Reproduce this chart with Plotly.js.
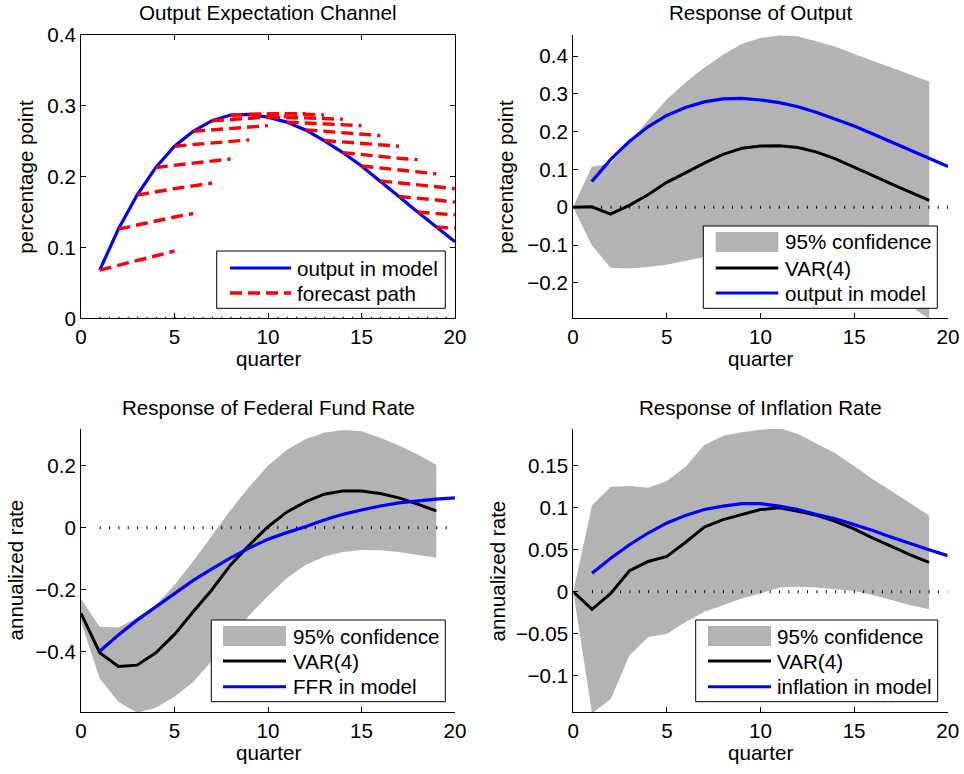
<!DOCTYPE html>
<html>
<head>
<meta charset="utf-8">
<script src="https://cdn.plot.ly/plotly-3.0.1.min.js"></script>
<style>
  html, body { margin: 0; padding: 0; background: #fff; }
  #chart { width: 964px; height: 774px; }
</style>
</head>
<body>
<div id="chart"></div>
<script>
// ---- Data: impulse responses over 20 quarters ----
const quartersVar   = [0, 1, 2, 3, 4, 5, 6, 7, 8, 9, 10, 11, 12, 13, 14, 15, 16, 17, 18, 19];
const quartersModel = [1, 2, 3, 4, 5, 6, 7, 8, 9, 10, 11, 12, 13, 14, 15, 16, 17, 18, 19, 20];
const zeroLineX = [1, 20];
const zeroLineY = [0, 0];

// Output in the model (percentage point)
const outputModel = [0.068, 0.126, 0.174, 0.213, 0.243, 0.264, 0.279, 0.287, 0.288, 0.284,
                     0.277, 0.266, 0.251, 0.234, 0.215, 0.194, 0.172, 0.150, 0.129, 0.108];

// Four-quarter-ahead forecast paths, one per starting quarter 1..19
const forecastStart = [1, 2, 3, 4, 5, 6, 7, 8, 9, 10, 11, 12, 13, 14, 15, 16, 17, 18, 19];
const forecastPaths = [
  [0.068, 0.075, 0.082, 0.089, 0.095],
  [0.126, 0.132, 0.138, 0.143, 0.148],
  [0.174, 0.179, 0.183, 0.187, 0.191],
  [0.213, 0.216, 0.219, 0.222, 0.225],
  [0.243, 0.245, 0.248, 0.250, 0.252],
  [0.264, 0.266, 0.268, 0.270, 0.272],
  [0.279, 0.281, 0.283, 0.284, 0.285],
  [0.287, 0.288, 0.289, 0.289, 0.289],
  [0.288, 0.289, 0.289, 0.288, 0.287],
  [0.284, 0.284, 0.283, 0.282, 0.281],
  [0.277, 0.276, 0.275, 0.273, 0.272],
  [0.266, 0.264, 0.262, 0.260, 0.258],
  [0.251, 0.249, 0.247, 0.245, 0.243],
  [0.234, 0.231, 0.229, 0.226, 0.224],
  [0.215, 0.212, 0.209, 0.207, 0.204],
  [0.194, 0.191, 0.189, 0.186, 0.183],
  [0.172, 0.170, 0.167, 0.164],
  [0.150, 0.148, 0.146],
  [0.129, 0.127]
];

// Response of output: VAR(4) estimate and 95% band
const outputVar   = [0, 0.001, -0.018, 0.005, 0.033, 0.066, 0.091, 0.117, 0.140, 0.156,
                     0.162, 0.163, 0.158, 0.146, 0.128, 0.107, 0.084, 0.061, 0.039, 0.018];
const outputUpper = [0, 0.107, 0.116, 0.170, 0.230, 0.285, 0.330, 0.369, 0.404, 0.432,
                     0.448, 0.455, 0.453, 0.440, 0.425, 0.406, 0.388, 0.369, 0.351, 0.333];
const outputLower = [0, -0.100, -0.160, -0.162, -0.158, -0.152, -0.142, -0.132, -0.125, -0.120,
                     -0.118, -0.120, -0.127, -0.138, -0.152, -0.170, -0.195, -0.225, -0.262, -0.295];

// Response of the federal funds rate (annualized)
const ffrVar   = [-0.276, -0.403, -0.447, -0.443, -0.403, -0.344, -0.271, -0.200, -0.120, -0.056,
                  0.003, 0.050, 0.083, 0.108, 0.118, 0.118, 0.110, 0.096, 0.076, 0.054];
const ffrUpper = [-0.230, -0.319, -0.322, -0.290, -0.250, -0.185, -0.108, -0.024, 0.057, 0.132,
                  0.200, 0.250, 0.285, 0.306, 0.315, 0.311, 0.290, 0.265, 0.236, 0.203];
const ffrLower = [-0.303, -0.486, -0.561, -0.596, -0.580, -0.545, -0.497, -0.430, -0.360, -0.282,
                  -0.220, -0.163, -0.120, -0.094, -0.078, -0.072, -0.073, -0.078, -0.088, -0.097];
const ffrModel = [-0.398, -0.346, -0.298, -0.255, -0.212, -0.170, -0.133, -0.097, -0.065, -0.037,
                  -0.016, 0.003, 0.025, 0.043, 0.057, 0.070, 0.080, 0.087, 0.092, 0.096];

// Response of the inflation rate (annualized)
const inflVar   = [0, -0.021, -0.002, 0.025, 0.036, 0.042, 0.059, 0.077, 0.086, 0.092,
                   0.098, 0.100, 0.096, 0.091, 0.084, 0.075, 0.064, 0.054, 0.044, 0.035];
const inflUpper = [0, 0.103, 0.125, 0.126, 0.124, 0.132, 0.149, 0.175, 0.186, 0.190,
                   0.193, 0.195, 0.188, 0.177, 0.165, 0.150, 0.134, 0.120, 0.106, 0.091];
const inflLower = [0, -0.145, -0.128, -0.076, -0.054, -0.050, -0.036, -0.024, -0.016, -0.008,
                   -0.002, 0.005, 0.006, 0.005, 0.003, 0.001, -0.004, -0.010, -0.016, -0.021];
const inflModel = [0.022, 0.040, 0.056, 0.070, 0.082, 0.091, 0.098, 0.102, 0.105, 0.105,
                   0.102, 0.098, 0.092, 0.087, 0.080, 0.073, 0.065, 0.057, 0.050, 0.043];

// ---- Labels ----
const panelTitles = ['Output Expectation Channel', 'Response of Output',
                     'Response of Federal Fund Rate', 'Response of Inflation Rate'];
const xTitle = 'quarter';
const yTitles = ['percentage point', 'percentage point', 'annualized rate', 'annualized rate'];
const xTicks = [0, 5, 10, 15, 20];
const yTicksTL = [0, 0.1, 0.2, 0.3, 0.4];
const yTicksTR = [-0.2, -0.1, 0, 0.1, 0.2, 0.3, 0.4];
const yTicksBL = [-0.4, -0.2, 0, 0.2];
const yTicksBR = [-0.1, -0.05, 0, 0.05, 0.1, 0.15];
const legendTL = ['output in model', 'forecast path'];
const legendTR = ['95% confidence', 'VAR(4)', 'output in model'];
const legendBL = ['95% confidence', 'VAR(4)', 'FFR in model'];
const legendBR = ['95% confidence', 'VAR(4)', 'inflation in model'];

// ---- Styling ----
const FONT = '"Liberation Sans", Arial, Helvetica, sans-serif';
const FS = 20.6;
const W = 964, H = 774;
const px = x => x / W;          // pixel column -> paper x
const py = y => 1 - y / H;      // pixel row    -> paper y
const BAND = '#b3b3b3', BLUE = '#0000ff', RED = '#ff0000', BLACK = '#000000';
const DOTS = '1px,8.35px';
const DASHES = '12px,6px';

function band(x, lo, hi, xa, ya) {
  return {
    x: x.concat(x.slice().reverse()),
    y: hi.concat(lo.slice().reverse()),
    xaxis: xa, yaxis: ya, type: 'scatter', mode: 'lines',
    fill: 'toself', fillcolor: BAND, line: {width: 0, color: 'rgba(0,0,0,0)'},
    hoverinfo: 'skip', showlegend: false
  };
}
function line(x, y, xa, ya, color, width, dash) {
  return {
    x: x, y: y, xaxis: xa, yaxis: ya, type: 'scatter', mode: 'lines',
    line: {color: color, width: width, dash: dash || 'solid'},
    hoverinfo: 'skip', showlegend: false
  };
}

const traces = [];
// Panel 1: output expectation channel
traces.push(line(zeroLineX, zeroLineY, 'x', 'y', BLACK, 3, DOTS));
traces.push(line(quartersModel, outputModel, 'x', 'y', BLUE, 3.2));
forecastPaths.forEach((path, i) => {
  const xs = path.map((_, h) => forecastStart[i] + h);
  traces.push(line(xs, path, 'x', 'y', RED, 3.4, DASHES));
});
// Panel 2: output
traces.push(band(quartersVar, outputLower, outputUpper, 'x2', 'y2'));
traces.push(line(zeroLineX, zeroLineY, 'x2', 'y2', BLACK, 3, DOTS));
traces.push(line(quartersVar, outputVar, 'x2', 'y2', BLACK, 3));
traces.push(line(quartersModel, outputModel, 'x2', 'y2', BLUE, 3.2));
// Panel 3: federal funds rate
traces.push(band(quartersVar, ffrLower, ffrUpper, 'x3', 'y3'));
traces.push(line(zeroLineX, zeroLineY, 'x3', 'y3', BLACK, 3, DOTS));
traces.push(line(quartersVar, ffrVar, 'x3', 'y3', BLACK, 3));
traces.push(line(quartersModel, ffrModel, 'x3', 'y3', BLUE, 3.2));
// Panel 4: inflation
traces.push(band(quartersVar, inflLower, inflUpper, 'x4', 'y4'));
traces.push(line(zeroLineX, zeroLineY, 'x4', 'y4', BLACK, 3, DOTS));
traces.push(line(quartersVar, inflVar, 'x4', 'y4', BLACK, 3));
traces.push(line(quartersModel, inflModel, 'x4', 'y4', BLUE, 3.2));

// ---- Axes ----
function axis(domain, range, ticks, anchor, extra) {
  return Object.assign({
    domain: domain, range: range, anchor: anchor,
    tickmode: 'array', tickvals: ticks,
    showgrid: false, zeroline: false,
    showline: true, linecolor: BLACK, linewidth: 1,
    ticks: 'inside', ticklen: 5, tickwidth: 1, tickcolor: BLACK,
    tickfont: {family: FONT, size: FS, color: BLACK},
    fixedrange: true
  }, extra || {});
}
// panel boxes in pixels: [left, right, top, bottom]
const boxes = [
  [81, 455, 35, 318.3],
  [573, 948, 35, 318.3],
  [81, 455, 429, 712],
  [573.3, 947.7, 429, 712]
];
const xDom = b => [px(b[0]), px(b[1])];
const yDom = b => [py(b[3]), py(b[2])];

const layout = {
  width: W, height: H,
  margin: {l: 0, r: 0, t: 0, b: 0},
  paper_bgcolor: '#fff', plot_bgcolor: '#fff',
  font: {family: FONT, size: FS, color: BLACK},
  showlegend: false,
  xaxis:  axis(xDom(boxes[0]), [0, 20], xTicks, 'y',  {mirror: 'ticks'}),
  yaxis:  axis(yDom(boxes[0]), [0, 0.4], yTicksTL, 'x', {mirror: 'ticks'}),
  xaxis2: axis(xDom(boxes[1]), [0, 20], xTicks, 'y2'),
  yaxis2: axis(yDom(boxes[1]), [-0.294, 0.456], yTicksTR, 'x2'),
  xaxis3: axis(xDom(boxes[2]), [0, 20], xTicks, 'y3'),
  yaxis3: axis(yDom(boxes[2]), [-0.594, 0.318], yTicksBL, 'x3'),
  xaxis4: axis(xDom(boxes[3]), [0, 20], xTicks, 'y4'),
  yaxis4: axis(yDom(boxes[3]), [-0.1434, 0.194], yTicksBR, 'x4'),
  shapes: [],
  annotations: []
};

function text(x, y, str, xanchor, extra) {
  return Object.assign({
    xref: 'paper', yref: 'paper', x: px(x), y: py(y),
    xanchor: xanchor || 'center', yanchor: 'middle',
    text: str, showarrow: false,
    font: {family: FONT, size: FS, color: BLACK}
  }, extra || {});
}

// Titles and axis labels
const titleRows = [12, 12, 407, 407];
const xTitleRows = [358.5, 358.5, 752.5, 752.5];
const yTitleCols = [26, 506, 15, 497];
boxes.forEach((b, i) => {
  const cx = (b[0] + b[1]) / 2, cy = (b[2] + b[3]) / 2;
  layout.annotations.push(text(cx, titleRows[i], panelTitles[i]));
  layout.annotations.push(text(cx, xTitleRows[i], xTitle));
  layout.annotations.push(text(yTitleCols[i], cy, yTitles[i], 'center', {textangle: -90}));
});

// Legends drawn as boxed keys inside each panel
function legendBox(l, r, t, b, rows, sampleL, sampleR, textX, labels, styles) {
  layout.shapes.push({type: 'rect', xref: 'paper', yref: 'paper',
    x0: px(l), x1: px(r), y0: py(b), y1: py(t),
    line: {color: BLACK, width: 1}, fillcolor: '#fff', layer: 'above'});
  labels.forEach((lab, i) => {
    const s = styles[i];
    if (s.fill) {
      layout.shapes.push({type: 'rect', xref: 'paper', yref: 'paper',
        x0: px(sampleL), x1: px(sampleR), y0: py(rows[i] + 10), y1: py(rows[i] - 10),
        line: {width: 0}, fillcolor: s.fill, layer: 'above'});
    } else {
      layout.shapes.push({type: 'line', xref: 'paper', yref: 'paper',
        x0: px(sampleL), x1: px(sampleR), y0: py(rows[i]), y1: py(rows[i]),
        line: {color: s.color, width: s.width || 3, dash: s.dash || 'solid'}, layer: 'above'});
    }
    layout.annotations.push(text(textX, rows[i], lab, 'left'));
  });
}
const bandStyles = [{fill: BAND}, {color: BLACK}, {color: BLUE}];
legendBox(216.7, 445.3, 251, 308.3, [268, 293], 230, 291, 295, legendTL,
          [{color: BLUE}, {color: RED, dash: DASHES, width: 3.4}]);
legendBox(703.3, 937.3, 226, 308.3, [242, 268, 293], 715.7, 778.3, 783, legendTR, bandStyles);
legendBox(211.3, 445.3, 620, 701.7, [636, 661, 686.7], 223, 286, 290.5, legendBL, bandStyles);
legendBox(695.7, 937.7, 620, 701.7, [636, 661, 686.7], 708, 771, 775, legendBR, bandStyles);

Plotly.newPlot('chart', traces, layout, {displayModeBar: false, staticPlot: true});
</script>
</body>
</html>
